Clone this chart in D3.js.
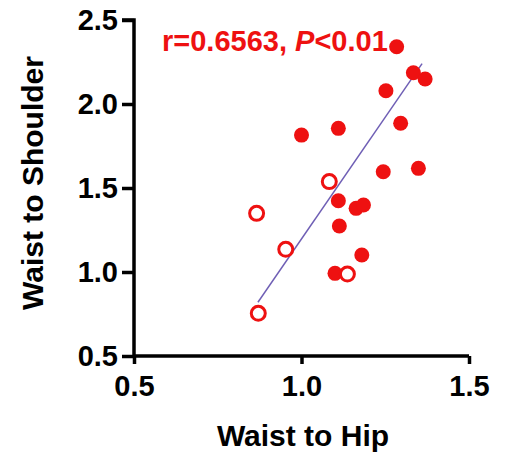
<!DOCTYPE html>
<html>
<head>
<meta charset="utf-8">
<script src="https://cdn.jsdelivr.net/npm/d3@7"></script>
<style>
    body { margin: 0; background: #fff; }
    svg text { font-family: "Liberation Sans", Arial, sans-serif; font-weight: bold; }
</style>
</head>
<body>
<svg id="chart" width="506" height="456"></svg>
<script>
// filled points (waist-to-hip, waist-to-shoulder)
const filledX = [1.284, 1.334, 1.369, 1.252, 1.000, 1.110, 1.296, 1.244, 1.349, 1.110, 1.163, 1.185, 1.113, 1.180, 1.100];
const filledY = [2.341, 2.186, 2.149, 2.079, 1.815, 1.855, 1.885, 1.597, 1.617, 1.424, 1.379, 1.399, 1.274, 1.101, 0.992];
// open points
const openX = [1.083, 0.866, 0.953, 1.137, 0.871];
const openY = [1.538, 1.349, 1.135, 0.988, 0.754];
// fitted line endpoints
const fitX = [0.87, 1.36];
const fitY = [0.82, 2.24];

const xTicks = [0.5, 1.0, 1.5];
const yTicks = [0.5, 1.0, 1.5, 2.0, 2.5];
const statLabel = ["r=0.6563, ", "P", "<0.01"];

const red = "#ee1111";
const svg = d3.select("#chart");

const x = d3.scaleLinear().domain([0.5, 1.5]).range([134, 469]);
const y = d3.scaleLinear().domain([0.5, 2.5]).range([356, 20]);

// axes
const xAxis = svg.append("g")
    .attr("transform", "translate(0,356)")
    .call(d3.axisBottom(x).tickValues(xTicks).tickFormat(d3.format(".1f")).tickSize(8).tickPadding(11));
const yAxis = svg.append("g")
    .attr("transform", "translate(134,0)")
    .call(d3.axisLeft(y).tickValues(yTicks).tickFormat(d3.format(".1f")).tickSize(12).tickPadding(4));

[xAxis, yAxis].forEach(g => {
    g.select(".domain").attr("stroke", "#000").attr("stroke-width", 3.5);
    g.selectAll(".tick line").attr("stroke", "#000").attr("stroke-width", 3.5);
    g.selectAll(".tick text").attr("fill", "#000").attr("font-size", "29px");
});
yAxis.select(".domain").attr("d", "M-12,20H0V356");
xAxis.select(".domain").attr("d", "M134,0H469");
xAxis.selectAll(".tick text").attr("dy", "0.71em");

// axis titles
svg.append("text")
    .attr("x", 303)
    .attr("y", 446)
    .attr("text-anchor", "middle")
    .attr("font-size", "30px")
    .attr("fill", "#000")
    .text("Waist to Hip");

svg.append("text")
    .attr("transform", "translate(43,183) rotate(-90)")
    .attr("text-anchor", "middle")
    .attr("font-size", "30px")
    .attr("fill", "#000")
    .text("Waist to Shoulder");

// regression line
svg.append("line")
    .attr("x1", x(fitX[0])).attr("y1", y(fitY[0]))
    .attr("x2", x(fitX[1])).attr("y2", y(fitY[1]))
    .attr("stroke", "#6f5fb5")
    .attr("stroke-width", 1.5);

// points
svg.append("g").selectAll("circle")
    .data(filledX.map((d, i) => [d, filledY[i]]))
    .join("circle")
    .attr("cx", d => x(d[0]))
    .attr("cy", d => y(d[1]))
    .attr("r", 7.5)
    .attr("fill", red);

svg.append("g").selectAll("circle")
    .data(openX.map((d, i) => [d, openY[i]]))
    .join("circle")
    .attr("cx", d => x(d[0]))
    .attr("cy", d => y(d[1]))
    .attr("r", 7)
    .attr("fill", "#fff")
    .attr("stroke", red)
    .attr("stroke-width", 3);

// stats label
const stat = svg.append("text")
    .attr("x", 162)
    .attr("y", 51)
    .attr("font-size", "29px")
    .attr("fill", red);
stat.selectAll("tspan")
    .data(statLabel)
    .join("tspan")
    .attr("font-style", (d, i) => i === 1 ? "italic" : "normal")
    .text(d => d);
</script>
</body>
</html>
